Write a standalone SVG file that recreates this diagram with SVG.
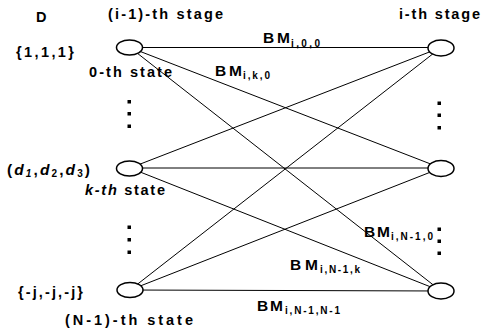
<svg xmlns="http://www.w3.org/2000/svg" width="481" height="336" viewBox="0 0 481 336">
<style>
text{font-family:"Liberation Sans",Arial,sans-serif;font-weight:bold;fill:#000}
.t{font-size:14.5px}
.b{font-size:15.5px}
.s{font-size:10px}
.n{fill:#fff;stroke:#000;stroke-width:1.5}
.c line{stroke:#000;stroke-width:1}
.d{fill:#000}
</style>
<rect width="481" height="336" fill="#fff"/>
<g id="connectors" class="c">
<line x1="130" y1="47.5" x2="441" y2="47.5"/>
<line x1="130" y1="47.5" x2="441" y2="168"/>
<line x1="130" y1="47.5" x2="441" y2="291"/>
<line x1="130" y1="168" x2="441" y2="47.5"/>
<line x1="130" y1="168" x2="441" y2="168"/>
<line x1="130" y1="168" x2="441" y2="291"/>
<line x1="130" y1="290" x2="441" y2="47.5"/>
<line x1="130" y1="290" x2="441" y2="168"/>
<line x1="130" y1="290" x2="441" y2="291"/>
</g>
<g id="left0"><ellipse class="n" cx="129.5" cy="47.5" rx="13" ry="7.5"/></g>
<g id="leftk"><ellipse class="n" cx="129.5" cy="168.5" rx="13" ry="7.5"/></g>
<g id="leftN1"><ellipse class="n" cx="130" cy="290" rx="13" ry="7.5"/></g>
<g id="right0"><ellipse class="n" cx="441" cy="48" rx="13" ry="8"/></g>
<g id="rightk"><ellipse class="n" cx="441" cy="168.5" rx="13" ry="8"/></g>
<g id="rightN1"><ellipse class="n" cx="441" cy="291" rx="13" ry="8"/></g>
<g id="dots">
<rect class="d" x="127.5" y="100" width="3.5" height="3.5"/>
<rect class="d" x="127.5" y="112" width="3.5" height="3.5"/>
<rect class="d" x="127.5" y="124.5" width="3.5" height="3.5"/>
<rect class="d" x="127.5" y="225.5" width="3.5" height="3.5"/>
<rect class="d" x="127.5" y="238" width="3.5" height="3.5"/>
<rect class="d" x="127.5" y="250.5" width="3.5" height="3.5"/>
<rect class="d" x="437.5" y="101.5" width="3.5" height="3.5"/>
<rect class="d" x="437.5" y="113.5" width="3.5" height="3.5"/>
<rect class="d" x="437.5" y="126" width="3.5" height="3.5"/>
<rect class="d" x="437.5" y="227.5" width="3.5" height="3.5"/>
<rect class="d" x="437.5" y="239.5" width="3.5" height="3.5"/>
<rect class="d" x="437.5" y="251.5" width="3.5" height="3.5"/>
</g>
<g id="labels">
<text class="t" x="36" y="22">D</text>
<text class="t" x="108" y="19" textLength="115" lengthAdjust="spacing">(i-1)-th stage</text>
<text class="t" x="399" y="19" textLength="81" lengthAdjust="spacing">i-th stage</text>
<text class="t" x="16" y="57" textLength="58" lengthAdjust="spacing">{1,1,1}</text>
<text class="t" x="89" y="77" textLength="83" lengthAdjust="spacing">0-th state</text>
<text class="b" x="263" y="43" textLength="27" lengthAdjust="spacing">BM</text>
<text class="s" x="291" y="47" textLength="29" lengthAdjust="spacing">i,0,0</text>
<text class="b" x="215" y="76" textLength="27" lengthAdjust="spacing">BM</text>
<text class="s" x="243" y="79" textLength="27" lengthAdjust="spacing">i,k,0</text>
<text class="b" x="7" y="175" textLength="83" lengthAdjust="spacing">(<tspan font-style="italic">d</tspan><tspan class="s" dy="2" font-style="italic">1</tspan><tspan dy="-2">,</tspan><tspan font-style="italic">d</tspan><tspan class="s" dy="2">2</tspan><tspan dy="-2">,</tspan><tspan font-style="italic">d</tspan><tspan class="s" dy="2">3</tspan><tspan dy="-2">)</tspan></text>
<text class="t" x="85" y="195" textLength="80" lengthAdjust="spacing"><tspan font-style="italic">k-th</tspan> state</text>
<text class="b" x="364" y="237" textLength="26" lengthAdjust="spacing">BM</text>
<text class="s" x="391" y="240" textLength="42" lengthAdjust="spacing">i,N-1,0</text>
<text class="b" x="290" y="270" textLength="28" lengthAdjust="spacing">BM</text>
<text class="s" x="320" y="273" textLength="40" lengthAdjust="spacing">i,N-1,k</text>
<text class="t" x="18" y="297" textLength="65" lengthAdjust="spacing">{-j,-j,-j}</text>
<text class="b" x="257" y="311" textLength="26" lengthAdjust="spacing">BM</text>
<text class="s" x="285" y="314" textLength="55" lengthAdjust="spacing">i,N-1,N-1</text>
<text class="t" x="65" y="325" textLength="128" lengthAdjust="spacing">(N-1)-th state</text>
</g>
</svg>
